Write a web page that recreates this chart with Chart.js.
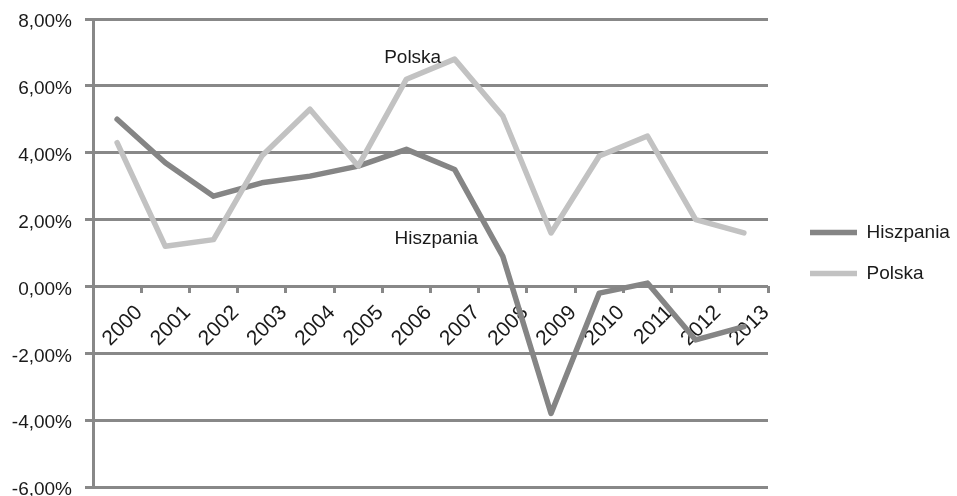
<!DOCTYPE html>
<html>
<head>
<meta charset="utf-8">
<script src="https://cdn.jsdelivr.net/npm/chart.js@4.4.1/dist/chart.umd.min.js"></script>
<style>
  html, body { margin: 0; padding: 0; background: #fff; overflow: hidden; }
  #wrap { width: 957px; height: 498px; position: relative; }
</style>
</head>
<body>
<div id="wrap"><canvas id="gdp"></canvas></div>
<script>
// roczne tempo wzrostu PKB, %
const years = ["2000","2001","2002","2003","2004","2005","2006","2007","2008","2009","2010","2011","2012","2013"];
const hiszpania = [5.0, 3.7, 2.7, 3.1, 3.3, 3.6, 4.1, 3.5, 0.9, -3.8, -0.2, 0.1, -1.6, -1.2];
const polska = [4.3, 1.2, 1.4, 3.9, 5.3, 3.6, 6.2, 6.8, 5.1, 1.6, 3.9, 4.5, 2.0, 1.6];

// podpisy serii na wykresie: tekst, pozycja kategorii, wartość
const noteText = ["Polska", "Hiszpania"];
const noteAt = [6.13, 6.62];
const noteValue = [6.84, 1.43];

const FONT = "'Liberation Sans', Arial, sans-serif";
const INK = "#1a1a1a";
const GRID = "#888888";

const seriesNotes = {
  id: "seriesNotes",
  afterDatasetsDraw(chart) {
    const ctx = chart.ctx;
    const x = chart.scales.x, y = chart.scales.y;
    ctx.save();
    ctx.font = "19px " + FONT;
    ctx.fillStyle = INK;
    ctx.textAlign = "center";
    ctx.textBaseline = "middle";
    noteText.forEach((t, i) => {
      ctx.fillText(t, x.getPixelForValue(noteAt[i]), y.getPixelForValue(noteValue[i]));
    });
    ctx.restore();
  }
};

new Chart(document.getElementById("gdp"), {
  type: "line",
  data: {
    labels: years,
    datasets: [{
      label: "Hiszpania",
      data: hiszpania,
      borderColor: "#858585",
      backgroundColor: "#858585",
      borderWidth: 5.5,
      pointRadius: 0,
      tension: 0,
      borderJoinStyle: "round",
      borderCapStyle: "round",
      order: 1
    }, {
      label: "Polska",
      data: polska,
      borderColor: "#c2c2c2",
      backgroundColor: "#c2c2c2",
      borderWidth: 5.5,
      pointRadius: 0,
      tension: 0,
      borderJoinStyle: "round",
      borderCapStyle: "round",
      order: 0
    }]
  },
  options: {
    responsive: true,
    maintainAspectRatio: false,
    animation: false,
    layout: { padding: { left: 0, top: 19, right: 0, bottom: 11 } },
    plugins: {
      tooltip: { enabled: false },
      legend: {
        position: "right",
        maxWidth: 169,
        labels: {
          usePointStyle: true,
          pointStyle: "line",
          pointStyleWidth: 47,
          boxWidth: 47,
          padding: 22,
          color: INK,
          font: { family: FONT, size: 19 },
          sort: (a, b) => a.datasetIndex - b.datasetIndex
        }
      }
    },
    scales: {
      x: {
        position: { y: 0 },
        offset: true,
        grid: {
          offset: true,
          drawOnChartArea: false,
          drawTicks: true,
          tickLength: 7,
          tickWidth: 3,
          tickColor: GRID
        },
        border: { display: false },
        ticks: {
          autoSkip: false,
          minRotation: 45,
          maxRotation: 45,
          labelOffset: 22,
          padding: 7,
          color: INK,
          font: { family: FONT, size: 21 }
        },
        afterFit: s => {
          s.paddingLeft = 0;
          s.paddingRight = 0;
          s.paddingTop = 0;
          s.paddingBottom = 0;
        }
      },
      y: {
        min: -6,
        max: 8,
        grid: {
          color: GRID,
          lineWidth: 3,
          tickLength: 8,
          tickWidth: 3,
          tickColor: GRID
        },
        border: { color: GRID, width: 3 },
        ticks: {
          stepSize: 2,
          padding: 13,
          labelOffset: 3,
          color: INK,
          font: { family: FONT, size: 19 },
          callback: v => v.toFixed(2).replace(".", ",") + "%"
        },
        afterFit: s => {
          s.width = 93;
          s.paddingTop = 0;
          s.paddingBottom = 0;
        }
      },
      yPad: {
        position: "right",
        display: true,
        grid: { display: false },
        border: { display: false },
        ticks: { display: false },
        afterFit: s => { s.width = 20; }
      }
    }
  },
  plugins: [seriesNotes]
});
</script>
</body>
</html>
